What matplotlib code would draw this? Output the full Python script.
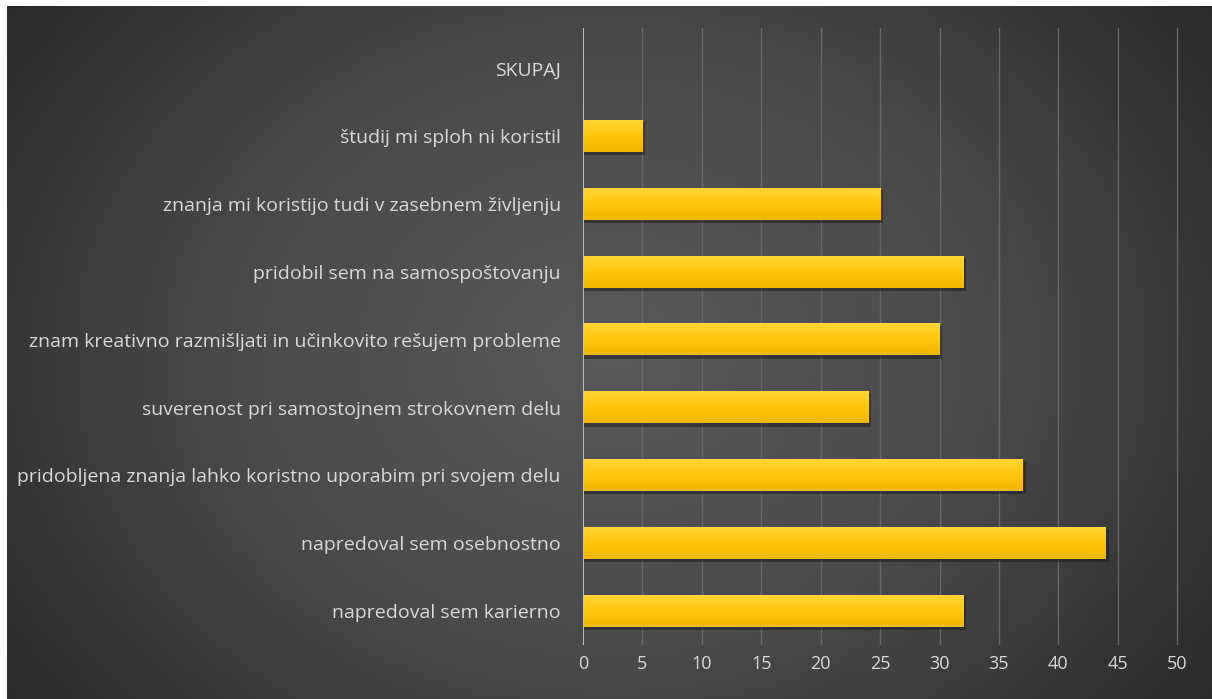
import numpy as np
import matplotlib
matplotlib.use("Agg")
import matplotlib.pyplot as plt
from matplotlib.colors import LinearSegmentedColormap

categories = [
    "napredoval sem karierno",
    "napredoval sem osebnostno",
    "pridobljena znanja lahko koristno uporabim pri svojem delu",
    "suverenost pri samostojnem strokovnem delu",
    "znam kreativno razmišljati in učinkovito rešujem probleme",
    "pridobil sem na samospoštovanju",
    "znanja mi koristijo tudi v zasebnem življenju",
    "študij mi sploh ni koristil",
    "SKUPAJ",
]
values = [32, 44, 37, 24, 30, 32, 25, 5, 0]
xticks = [0, 5, 10, 15, 20, 25, 30, 35, 40, 45, 50]

W, H = 1212, 699
fig = plt.figure(figsize=(W / 100, H / 100), dpi=100, facecolor="white")

# background panel with radial gradient
bg = fig.add_axes([7 / W, 0, 1 - 7 / W, (H - 6) / H])
bg.set_axis_off()
ny, nx = 200, 350
yy, xx = np.mgrid[0:ny, 0:nx]
cx, cy = nx * 0.50, ny * 0.5
r = np.sqrt(((xx - cx) / (nx * 0.62)) ** 2 + ((yy - cy) / (ny * 0.85)) ** 2)
r = np.clip(r, 0, 1)
bgcmap = LinearSegmentedColormap.from_list("bg", ["#595959", "#4a4a4a", "#2a2a2a"])
bg.imshow(r, cmap=bgcmap, aspect="auto", extent=[0, 1, 0, 1], vmin=0, vmax=1)
bg.set_xlim(0, 1)
bg.set_ylim(0, 1)

ax = fig.add_axes([583 / W, (H - 645) / H, (1195 - 583) / W, (645 - 28) / H])
ax.patch.set_alpha(0)
ax.set_xlim(0, 51.5)
ax.set_ylim(-0.5, 8.6)

y = np.arange(len(categories))
bh = 0.46
barcmap = LinearSegmentedColormap.from_list("bar", ["#FFD535", "#FFC60A", "#F2B800"])
grad = np.linspace(0, 1, 64).reshape(-1, 1)
for yi, v in zip(y, values):
    if v <= 0:
        continue
    # shadow
    ax.barh(yi - 0.035, v + 0.25, height=bh + 0.03, left=0, color="#1e1e1e", alpha=0.55, zorder=2)
    ax.imshow(grad, cmap=barcmap, aspect="auto",
              extent=[0, v, yi - bh / 2, yi + bh / 2], origin="upper", zorder=3)

for t in xticks:
    if t == 0:
        continue
    ax.axvline(t, color="#676767", lw=1.0, zorder=1)
ax.axvline(0, color="#c8c8c8", lw=1.3, zorder=4)

ax.set_xticks(xticks)
ax.set_xticklabels([str(t) for t in xticks])
ax.set_yticks(y)
ax.set_yticklabels(categories)
ax.tick_params(axis="both", length=0, colors="#d9d9d9")
ax.tick_params(axis="y", pad=16, labelsize=14)
ax.tick_params(axis="x", pad=7, labelsize=13)
for lab in ax.get_xticklabels() + ax.get_yticklabels():
    lab.set_fontfamily(["Open Sans", "DejaVu Sans"])
    lab.set_color("#d9d9d9")
for s in ax.spines.values():
    s.set_visible(False)

fig.savefig("out.png", dpi=100, facecolor="white")
